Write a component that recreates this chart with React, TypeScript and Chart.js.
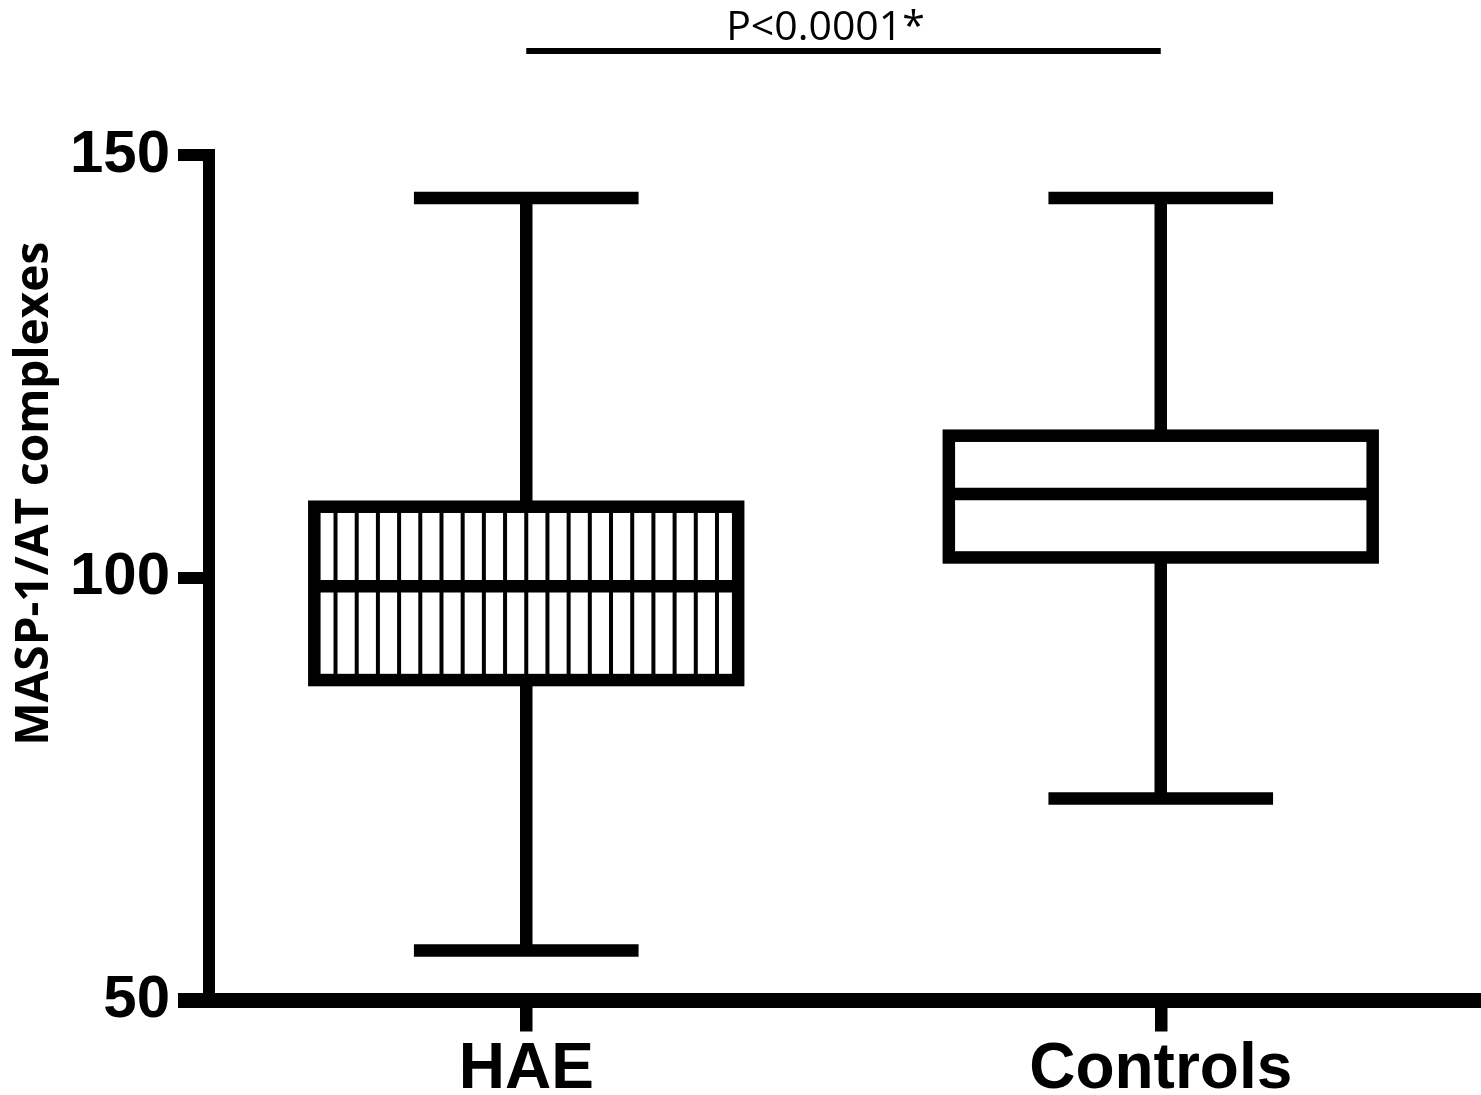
import React, { useEffect, useRef } from "react";
import { Chart, registerables } from "chart.js";

Chart.register(...registerables);

const categories = ["HAE", "Controls"];
const whiskerLow = [55.9, 73.9];
const q1 = [87.9, 102.4];
const median = [99.0, 109.9];
const q3 = [108.4, 116.8];
const whiskerHigh = [144.9, 144.9];
const hatched = [true, false];
const yTicks = [50, 100, 150];
const yTitle = "MASP-1/AT complexes";
const pValueLabel = "P<0.0001*";

const LW = 12.5;
const SANS = "'Liberation Sans', Arial, sans-serif";

const boxPlugin = {
  id: "boxWhiskers",
  afterDatasetsDraw(chart: any) {
    const ctx = chart.ctx as CanvasRenderingContext2D;
    const ys = chart.scales.y;
    const meta = chart.getDatasetMeta(0);
    ctx.save();
    ctx.strokeStyle = "#000";
    ctx.lineCap = "butt";
    const xs: number[] = [];
    meta.data.forEach((bar: any, i: number) => {
      const { x, width } = bar.getProps(["x", "width"], true);
      xs.push(x);
      const left = x - width / 2;
      const yq1 = ys.getPixelForValue(q1[i]);
      const yq3 = ys.getPixelForValue(q3[i]);
      const ymed = ys.getPixelForValue(median[i]);
      const ylo = ys.getPixelForValue(whiskerLow[i]);
      const yhi = ys.getPixelForValue(whiskerHigh[i]);
      const capW = width * 0.53;
      if (hatched[i]) {
        ctx.lineWidth = 4;
        ctx.beginPath();
        for (let k = 1; k < 20; k++) {
          const sx = left + (k * width) / 20;
          ctx.moveTo(sx, yq3);
          ctx.lineTo(sx, yq1);
        }
        ctx.stroke();
      }
      ctx.lineWidth = LW;
      ctx.lineJoin = "miter";
      ctx.strokeRect(left, yq3, width, yq1 - yq3);
      ctx.beginPath();
      ctx.moveTo(left, ymed);
      ctx.lineTo(left + width, ymed);
      ctx.moveTo(x, yq3);
      ctx.lineTo(x, yhi);
      ctx.moveTo(x, yq1);
      ctx.lineTo(x, ylo);
      ctx.moveTo(x - capW / 2, yhi);
      ctx.lineTo(x + capW / 2, yhi);
      ctx.moveTo(x - capW / 2, ylo);
      ctx.lineTo(x + capW / 2, ylo);
      ctx.stroke();
    });
    // significance bar
    const area = chart.chartArea;
    const lineY = area.top - 104;
    ctx.lineWidth = 6;
    ctx.beginPath();
    ctx.moveTo(xs[0], lineY);
    ctx.lineTo(xs[1], lineY);
    ctx.stroke();
    ctx.fillStyle = "#000";
    ctx.font = "41px 'Open Sans', sans-serif";
    ctx.textAlign = "center";
    ctx.textBaseline = "alphabetic";
    ctx.fillText(pValueLabel, (xs[0] + xs[1]) / 2 - 18, lineY - 11);

    // y-axis title
    const midY = (area.top + area.bottom) / 2 - 84;
    ctx.save();
    ctx.translate(48, midY);
    ctx.rotate(-Math.PI / 2);
    ctx.font = "bold 46px 'Open Sans', sans-serif";
    ctx.textAlign = "center";
    ctx.textBaseline = "alphabetic";
    ctx.fillText(yTitle, 0, 0);
    ctx.restore();
    ctx.restore();
  },
};

export default function App() {
  const ref = useRef<HTMLCanvasElement | null>(null);
  useEffect(() => {
    if (!ref.current) return;
    const chart = new Chart(ref.current, {
      type: "bar",
      data: {
        labels: categories,
        datasets: [
          {
            data: categories.map((_, i) => [q1[i], q3[i]]) as any,
            backgroundColor: "#fff",
            borderWidth: 0,
            barPercentage: 0.668,
            categoryPercentage: 1,
          },
        ],
      },
      options: {
        animation: false,
        responsive: true,
        maintainAspectRatio: false,
        layout: { padding: { top: 155, right: 3, left: 0, bottom: 0 } },
        plugins: {
          legend: { display: false },
          tooltip: { enabled: false },
        },
        scales: {
          x: {
            type: "category",
            offset: true,
            grid: {
              display: true,
              drawOnChartArea: false,
              drawTicks: true,
              tickLength: 31,
              lineWidth: 12.5,
              color: "#000",
              offset: false,
            },
            border: { display: true, width: 15, color: "#000" },
            ticks: {
              color: "#000",
              font: { family: SANS, size: 64, weight: "bold" },
              padding: 0,
            },
            afterFit: (s: any) => {
              s.height = 94.5;
            },
          },
          y: {
            type: "linear",
            min: 50,
            max: 150,
            afterBuildTicks: (s: any) => {
              s.ticks = yTicks.map((v) => ({ value: v }));
            },
            grid: {
              drawOnChartArea: false,
              drawTicks: true,
              tickLength: 31,
              lineWidth: (c: any) => (c.tick && c.tick.value === 50 ? 15 : 12),
              color: "#000",
            },
            border: { display: true, width: 12, color: "#000" },
            ticks: {
              color: "#000",
              padding: 8,
              font: { family: SANS, size: 60, weight: "bold" },
            },
            title: { display: false },
            afterFit: (s: any) => {
              s.width = 209;
            },
          },
        },
      },
      plugins: [boxPlugin],
    });
    return () => chart.destroy();
  }, []);
  return (
    <div style={{ position: "fixed", left: 0, top: 0, width: 1481, height: 1095, background: "#fff" }}>
      <canvas ref={ref} />
    </div>
  );
}
